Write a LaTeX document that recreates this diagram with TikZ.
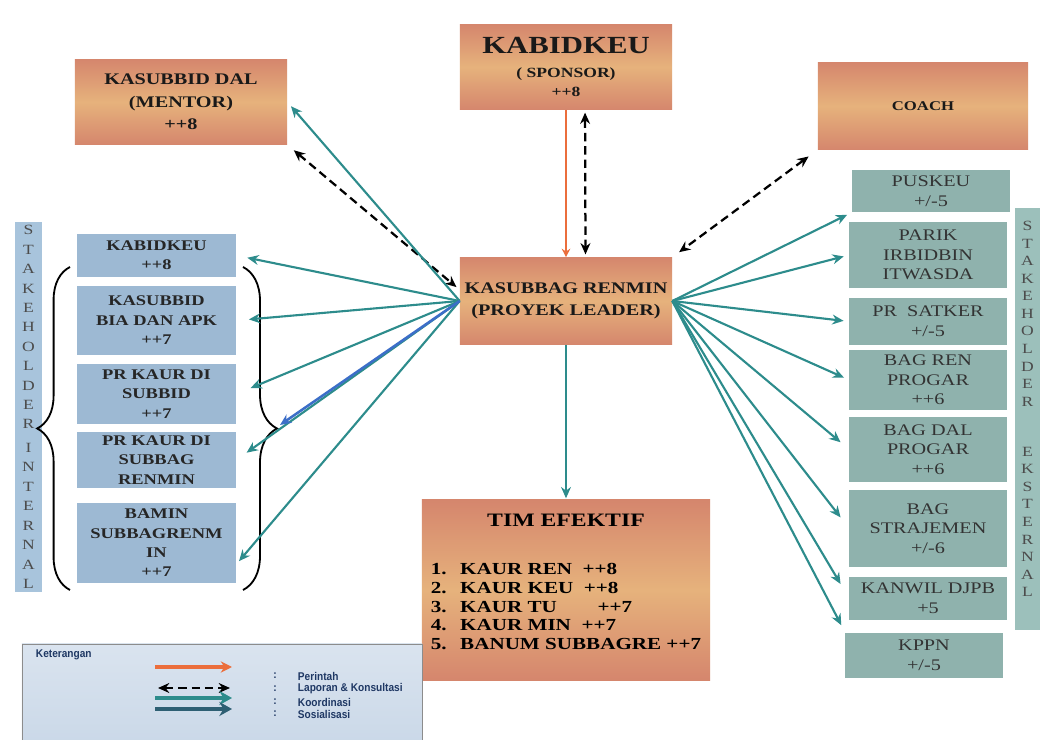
\documentclass[tikz,border=0pt]{standalone}
\usepackage{fontspec}
\setmainfont{Liberation Serif}[FakeStretch=1.25]
\newfontfamily\legfont{Liberation Sans}[FakeStretch=0.9]
\usepackage{tikz}
\usetikzlibrary{arrows.meta, positioning, decorations.pathreplacing}
\definecolor{boxSalmon}{HTML}{D5866D}
\definecolor{boxGold}{HTML}{E6B27C}
\definecolor{intBlue}{HTML}{9DB9D3}
\definecolor{intBar}{HTML}{A8C4DC}
\definecolor{extTeal}{HTML}{8FB2AD}
\definecolor{extBar}{HTML}{9CC0BB}
\definecolor{coordTeal}{HTML}{2D8C8C}
\definecolor{socBlue}{HTML}{3C6EC8}
\definecolor{cmdOrange}{HTML}{EB6E3C}
\definecolor{legTeal}{HTML}{2E5F73}
\definecolor{legBack}{HTML}{CAD8E8}
\definecolor{legText}{HTML}{1F3864}

\begin{document}
\begin{tikzpicture}[x=0.025cm, y=-0.025cm,
        lead/.style={rectangle, top color=boxSalmon, bottom color=boxSalmon, middle color=boxGold, align=center, inner sep=2pt, text=black!90},
        intbox/.style={rectangle, fill=intBlue, align=center, inner sep=1pt, minimum width=3.975cm, font=\fontsize{10.5}{13.8}\selectfont\bfseries, text=black!85},
        extbox/.style={rectangle, fill=extTeal, align=center, inner sep=1pt, minimum width=3.925cm, font=\fontsize{11.5}{14}\selectfont, text=black!80},
        sidebar/.style={rectangle, inner sep=0pt},
        barletters/.style={align=center, inner sep=0pt, font=\fontsize{10}{13.8}\selectfont, text=black!70},
        coordarrow/.style={-{Stealth[length=8pt, width=7pt]}, line width=1.5pt, draw=coordTeal, shorten >=4pt},
        socarrow/.style={-{Stealth[length=8pt, width=7pt]}, line width=1.8pt, draw=socBlue},
        cmdarrow/.style={-{Stealth[length=6pt, width=6pt]}, line width=1.6pt, draw=cmdOrange},
        reportarrow/.style={{Stealth[length=8pt, width=7pt]}-{Stealth[length=8pt, width=7pt]}, line width=1.6pt, dash pattern=on 6pt off 3.5pt},
        curly/.style={decorate, decoration={brace, amplitude=#1}, line width=1.3pt},
        legtext/.style={font=\legfont\fontsize{8}{9}\selectfont\bfseries, text=legText}]

        \path[fill=white, use as bounding box] (0,0) rectangle (1055,740);

        % Top: mentor, sponsor, coach
        \node[lead, minimum width=5.3cm, minimum height=2.125cm, font=\fontsize{11.5}{16}\selectfont\bfseries] (mentor) at (181,102) {KASUBBID DAL\\(MENTOR)\\++8};
        \node[lead, minimum width=5.3cm, minimum height=2.125cm, font=\fontsize{10}{13.5}\selectfont\bfseries] (sponsor) at (566,67) {{\fontsize{17.5}{17}\selectfont KABIDKEU}\\[4pt]( SPONSOR)\\++8};
        \node[lead, minimum width=5.25cm, minimum height=2.175cm, font=\fontsize{9.5}{12}\selectfont\bfseries] (coach) at (923,106) {COACH};

        % Project leader and team
        \node[lead, minimum width=5.3cm, minimum height=2.175cm, font=\fontsize{11.5}{16}\selectfont\bfseries] (renmin) at (566,301) {KASUBBAG RENMIN\\(PROYEK LEADER)};
        \node[lead, minimum width=7.2cm, minimum height=4.5cm] (tim) at (566,590) {};
        \node[above of=tim, node distance=1.75cm, font=\fontsize{13.5}{15}\selectfont\bfseries] (timtitle) {TIM EFEKTIF};
        \node[below of=tim, node distance=0.42cm, align=left, font=\fontsize{12}{13.3}\selectfont\bfseries] (timlist) {1.\hspace{0.8em}KAUR REN \ ++8\\2.\hspace{0.8em}KAUR KEU \ ++8\\3.\hspace{0.8em}KAUR TU \hspace{2.1em}++7\\4.\hspace{0.8em}KAUR MIN \ ++7\\5.\hspace{0.8em}BANUM SUBBAGRE ++7};

        % Stakeholder internal
        \node[sidebar, fill=intBar, minimum width=0.675cm, minimum height=9.25cm] (intbar) at (28.5,407) {};
        \node[barletters] (intletters) at (28.5,407) {S\\T\\A\\K\\E\\H\\O\\L\\D\\E\\R\\[3pt]I\\N\\T\\E\\R\\N\\A\\L};
        \node[intbox, minimum height=1.075cm] (ikabid) at (156.5,255.5) {KABIDKEU\\++8};
        \node[intbox, minimum height=1.725cm] (ibia) at (156.5,320.5) {KASUBBID\\BIA DAN APK\\++7};
        \node[intbox, minimum height=1.5cm] (isubbid) at (156.5,394) {PR KAUR DI\\SUBBID\\++7};
        \node[intbox, minimum height=1.4cm] (isubbag) at (156.5,460) {PR KAUR DI\\SUBBAG\\RENMIN};
        \node[intbox, minimum height=2.0cm] (ibamin) at (156.5,543) {BAMIN\\SUBBAGRENM\\IN\\++7};
        \coordinate (lbrTop) at (70,267);
        \coordinate (lbrBot) at (70,590);
        \coordinate (rbrTop) at (243,267);
        \coordinate (rbrBot) at (243,590);
        \coordinate (rbrTip) at (280,425);
        \draw[curly=0.82cm] (lbrBot) -- (lbrTop);
        \draw[curly=0.85cm] (rbrTop) -- (rbrBot);

        % Stakeholder eksternal
        \node[sidebar, fill=extBar, minimum width=0.625cm, minimum height=10.55cm] (extbar) at (1027.5,419) {};
        \node[barletters, font=\fontsize{10}{12.5}\selectfont] (extletters) at (1027.5,409) {S\\T\\A\\K\\E\\H\\O\\L\\D\\E\\R\\[23pt]E\\K\\S\\T\\E\\R\\N\\A\\L};
        \node[extbox, minimum height=1.05cm] (puskeu) at (931,191) {PUSKEU\\+/-5};
        \node[extbox, minimum height=1.65cm] (parik) at (928,255) {PARIK\\IRBIDBIN\\ITWASDA};
        \node[extbox, minimum height=1.175cm] (satker) at (928,321.5) {PR\ \ SATKER\\+/-5};
        \node[extbox, minimum height=1.5cm] (bagren) at (928,380) {BAG REN\\PROGAR\\++6};
        \node[extbox, minimum height=1.625cm] (bagdal) at (928,449.5) {BAG DAL\\PROGAR\\++6};
        \node[extbox, minimum height=1.925cm] (straj) at (928,528.5) {BAG\\STRAJEMEN\\+/-6};
        \node[extbox, minimum height=1.075cm] (kanwil) at (928,598.5) {KANWIL DJPB\\+5};
        \node[extbox, minimum height=1.125cm] (kppn) at (924,655.5) {KPPN\\+/-5};

        % Arrows
        \draw[cmdarrow] (sponsor.south) -- (renmin.north);
        \draw[reportarrow, shorten <=2pt, shorten >=2pt] (sponsor.-66) -- (renmin.66);
        \draw[reportarrow, shorten <=6pt, shorten >=3pt] (mentor.south east) -- (renmin.174);
        \draw[reportarrow, shorten <=8pt, shorten >=6pt] (coach.south west) -- (renmin.north east);
        \draw[coordarrow] (renmin.west) -- (mentor.east);
        \draw[coordarrow, shorten >=8pt] (renmin.west) -- (ikabid.east);
        \draw[coordarrow, shorten >=9pt] (renmin.west) -- (ibia.east);
        \draw[coordarrow, shorten >=11pt] (renmin.west) -- (isubbid.east);
        \draw[coordarrow, shorten >=9pt] (renmin.west) -- (isubbag.east);
        \draw[coordarrow, shorten >=3pt] (renmin.west) -- (ibamin.-15);
        \draw[socarrow] (renmin.west) -- (rbrTip);
        \draw[coordarrow] (renmin.east) -- (puskeu.south west);
        \draw[coordarrow] (renmin.east) -- (parik.west);
        \draw[coordarrow] (renmin.east) -- (satker.west);
        \draw[coordarrow] (renmin.east) -- (bagren.west);
        \draw[coordarrow, shorten >=8pt] (renmin.east) -- (bagdal.west);
        \draw[coordarrow, shorten >=10pt] (renmin.east) -- (straj.west);
        \draw[coordarrow, shorten >=12pt] (renmin.east) -- (kanwil.west);
        \draw[coordarrow, shorten >=6pt] (renmin.east) -- (kppn.north west);
        \draw[coordarrow, shorten >=1pt] (renmin.south) -- (tim.north);

        % Legend
        \node[rectangle, draw=black!45, top color=legBack!70, bottom color=legBack, minimum width=10.0cm, minimum height=2.55cm] (legend) at (222,695) {};
        \node[legtext, anchor=north west] (legtitle) at (31,645) {Keterangan};
        \coordinate (lgA1) at (155,667); \coordinate (lgA2) at (232,667);
        \coordinate (lgB1) at (158,688); \coordinate (lgB2) at (230,688);
        \coordinate (lgC1) at (155,698); \coordinate (lgC2) at (232,698);
        \coordinate (lgD1) at (155,709); \coordinate (lgD2) at (232,709);
        \draw[-{Stealth[length=8pt, width=8pt]}, line width=2.2pt, draw=cmdOrange] (lgA1) -- (lgA2);
        \draw[reportarrow] (lgB1) -- (lgB2);
        \draw[-{Stealth[length=9pt, width=10pt]}, line width=3pt, draw=coordTeal] (lgC1) -- (lgC2);
        \draw[-{Stealth[length=9pt, width=10pt]}, line width=3.4pt, draw=legTeal] (lgD1) -- (lgD2);
        \node[legtext, anchor=west] (legcmd) at (293,676) {Perintah};
        \node[legtext, anchor=west] (legrep) at (293,689) {Laporan \& Konsultasi};
        \node[legtext, anchor=west] (legkoo) at (293,702) {Koordinasi};
        \node[legtext, anchor=west] (legsos) at (293,714) {Sosialisasi};
        \foreach \y in {676,689,702,714}
            \node[legtext] at (275,\y) {:};
\end{tikzpicture}
\end{document}
